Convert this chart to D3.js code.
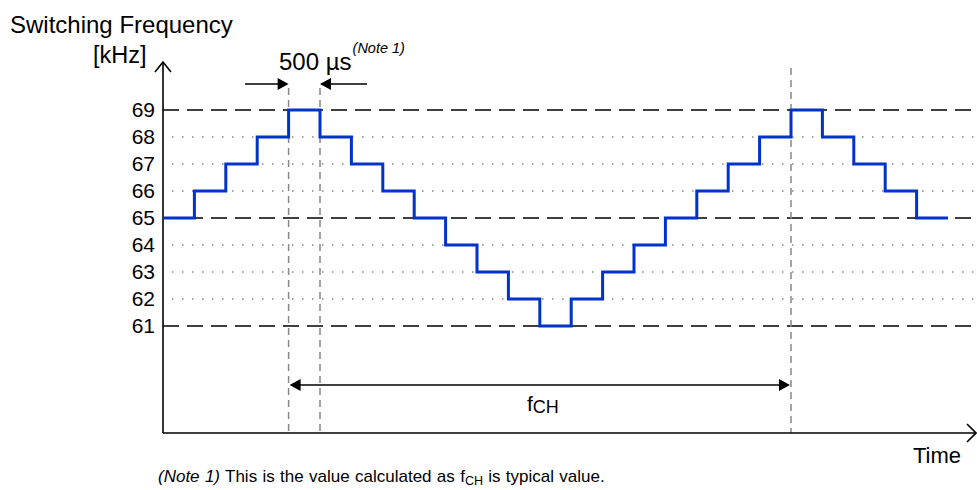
<!DOCTYPE html>
<html><head><meta charset="utf-8">
<script src="https://cdn.jsdelivr.net/npm/d3@7"></script>
<style>body{margin:0;background:#fff}svg{display:block;font-family:"Liberation Sans",Arial,sans-serif}</style>
</head><body><svg id="c" width="977" height="490"></svg>
<script>
const freqSteps = [65,66,67,68,69,68,67,66,65,64,63,62,61,62,63,64,65,66,67,68,69,68,67,66,65];
const yTicks = [61,62,63,64,65,66,67,68,69];
const majorTicks = [61,65,69];
const markerSteps = [4,5,20];

const svg = d3.select("#c");
const x = d3.scaleLinear().domain([0, freqSteps.length]).range([163, 948]);
const y = d3.scaleLinear().domain([61, 69]).range([326, 110]);
const x0 = 163, y0 = 433, xEnd = 976;

// gridlines
svg.selectAll(".grid").data(yTicks).enter().append("line")
  .attr("x1", d => majorTicks.includes(d) ? x0 : x0 + 9).attr("x2", xEnd)
  .attr("y1", d => y(d)).attr("y2", d => y(d))
  .attr("stroke", d => majorTicks.includes(d) ? "#000" : "#888")
  .attr("stroke-width", d => majorTicks.includes(d) ? 1.6 : 1.3)
  .attr("stroke-dasharray", d => majorTicks.includes(d) ? "16,8" : "1.5,8.5");

// vertical markers
svg.selectAll(".vm").data(markerSteps).enter().append("line")
  .attr("x1", d => x(d)).attr("x2", d => x(d))
  .attr("y1", d => d === 20 ? 68 : 88).attr("y2", y0)
  .attr("stroke", "#888").attr("stroke-width", 1.5).attr("stroke-dasharray", "7,5");

// axes
const yAxis = d3.axisLeft(y).tickValues(yTicks).tickSize(0).tickPadding(8);
const gy = svg.append("g").attr("transform", `translate(${x0},0)`).call(yAxis);
gy.select(".domain").remove();
gy.selectAll("text").attr("font-size", 21).attr("fill", "#000").attr("font-family", "Liberation Sans, Arial, sans-serif");

svg.append("line").attr("x1", x0).attr("x2", x0).attr("y1", y0).attr("y2", 62).attr("stroke", "#000").attr("stroke-width", 1.6);
svg.append("path").attr("d", `M${x0-8},${72} L${x0},${62} L${x0+8},${72}`).attr("fill", "none").attr("stroke", "#000").attr("stroke-width", 1.6);
svg.append("line").attr("x1", x0).attr("x2", xEnd).attr("y1", y0).attr("y2", y0).attr("stroke", "#000").attr("stroke-width", 1.6);
svg.append("path").attr("d", `M${xEnd-9},${y0-9} L${xEnd},${y0} L${xEnd-9},${y0+9}`).attr("fill", "none").attr("stroke", "#000").attr("stroke-width", 1.6);

// step line
const pts = freqSteps.map((v, i) => [i, v]);
pts.push([freqSteps.length, freqSteps[freqSteps.length - 1]]);
const line = d3.line().x(d => x(d[0])).y(d => y(d[1])).curve(d3.curveStepAfter);
svg.append("path").datum(pts).attr("d", line).attr("fill", "none")
  .attr("stroke", "#0033cc").attr("stroke-width", 3);

// arrowheads
function head(px, py, dir) {
  svg.append("path").attr("d", `M${px},${py} L${px - dir*11},${py-6} L${px - dir*11},${py+6} Z`).attr("fill", "#000");
}
const ay = 84;
svg.append("line").attr("x1", 245).attr("x2", x(4) - 4).attr("y1", ay).attr("y2", ay).attr("stroke", "#000").attr("stroke-width", 1.6);
head(x(4), ay, 1);
svg.append("line").attr("x1", 367).attr("x2", x(5) + 4).attr("y1", ay).attr("y2", ay).attr("stroke", "#000").attr("stroke-width", 1.6);
head(x(5), ay, -1);

const fy = 385;
svg.append("line").attr("x1", x(4) + 4).attr("x2", x(20) - 4).attr("y1", fy).attr("y2", fy).attr("stroke", "#000").attr("stroke-width", 1.6);
head(x(4) + 1, fy, -1);
head(x(20) - 1, fy, 1);

// texts
svg.append("text").attr("x", 10).attr("y", 33).attr("font-size", 24).text("Switching Frequency");
svg.append("text").attr("x", 93).attr("y", 63).attr("font-size", 23.5).text("[kHz]");
const t5 = svg.append("text").attr("x", 279).attr("y", 70).attr("font-size", 24);
t5.append("tspan").text("500 µs");
t5.append("tspan").attr("font-size", 14.5).attr("font-style", "italic").attr("dy", -17).attr("dx", 1).text("(Note 1)");
const fch = svg.append("text").attr("x", 527).attr("y", 411).attr("font-size", 21);
fch.append("tspan").text("f");
fch.append("tspan").attr("font-size", 18).attr("dy", 2).text("CH");
svg.append("text").attr("x", 913).attr("y", 463).attr("font-size", 22).text("Time");
const note = svg.append("text").attr("x", 158).attr("y", 482).attr("font-size", 17).attr("word-spacing", 0.6);
note.append("tspan").attr("font-style", "italic").text("(Note 1)");
note.append("tspan").text(" This is the value calculated as f");
note.append("tspan").attr("font-size", 12.5).attr("dy", 3).text("CH");
note.append("tspan").attr("dy", -3).text(" is typical value.");
</script></body></html>
